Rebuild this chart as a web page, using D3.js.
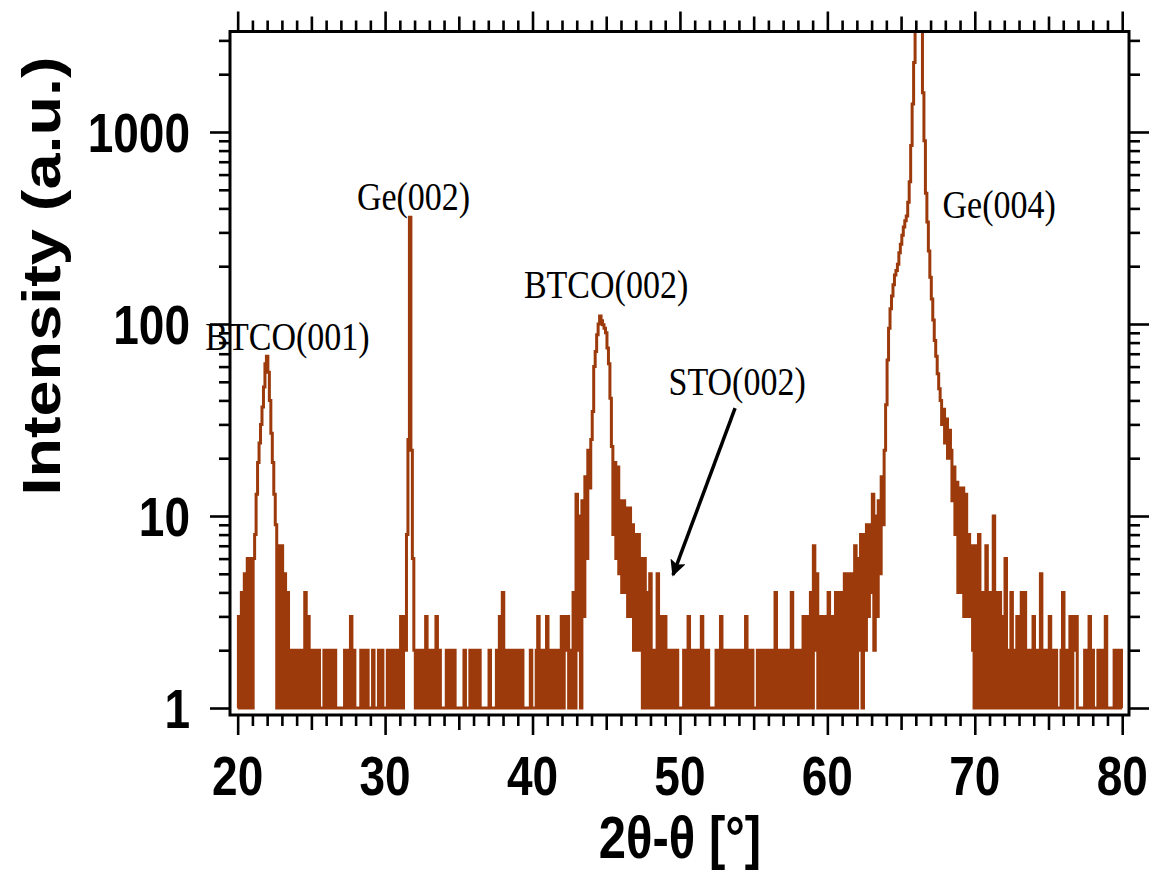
<!DOCTYPE html>
<html>
<head>
<meta charset="utf-8">
<title>XRD 2theta-theta scan</title>
<script src="https://d3js.org/d3.v7.min.js"></script>
<style>
  body { margin: 0; background: #fff; }
</style>
</head>
<body>
<script>

// detector counts, one array for every 10 degrees
var step = 0.1;
var segStarts = [20, 30, 40, 50, 60, 70];

var counts20 = [
  1,3,1,4,1,5,1,6,1,6,
  1,6,8,13,19,24,30,37,47,62,
  68,56,40,27,19,13,9,1,7,1,
  7,1,5,1,4,1,2,1,2,1,
  2,1,2,1,2,1,4,1,3,1,
  1,2,1,2,1,2,1,1,1,2,
  1,2,1,1,2,1,2,1,1,1,
  1,1,1,2,1,2,1,3,1,2,
  1,1,1,1,2,1,2,1,2,1,
  1,1,2,1,1,1,2,1,2,1];

var counts30 = [
  1,1,2,1,2,1,2,1,2,1,
  2,3,1,3,2,8,25,360,22,6,
  2,1,2,1,2,1,1,2,3,1,
  2,1,2,1,2,3,1,2,1,1,
  1,1,2,1,2,1,1,2,1,1,
  1,1,1,1,2,1,1,1,2,1,
  2,1,2,1,2,1,1,1,1,1,
  1,2,1,1,1,1,2,1,3,1,
  4,1,2,1,2,1,2,1,2,1,
  1,2,1,2,1,1,1,1,1,2];

var counts40 = [
  1,1,1,2,3,1,1,2,1,2,
  3,1,2,1,2,1,2,1,2,1,
  3,1,3,2,3,1,2,1,4,1,
  13,2,10,1,12,3,16,6,22,14,
  25,35,60,72,88,100,110,104,99,95,
  90,75,62,41,23,8,19,6,18,5,
  12,4,12,4,11,3,11,3,9,2,
  8,2,8,2,6,1,6,1,4,1,
  5,1,2,1,2,5,1,2,3,1,
  3,1,2,1,2,1,2,1,2,1];

var counts50 = [
  1,1,1,2,1,2,3,1,1,2,
  1,2,1,2,1,3,1,2,1,2,
  1,1,1,1,1,2,1,2,3,1,
  2,1,2,1,2,1,2,1,2,1,
  2,1,2,1,2,3,1,2,1,2,
  1,1,1,2,1,2,1,2,1,2,
  1,2,1,2,1,4,1,2,1,2,
  1,2,1,2,1,2,4,1,2,1,
  2,1,2,1,3,1,3,1,3,4,
  1,7,2,5,1,3,1,3,1,3];

var counts60 = [
  1,4,1,3,1,3,4,1,3,4,
  1,3,5,1,5,1,5,1,4,7,
  1,6,2,8,1,8,2,9,3,9,
  4,13,2,10,3,12,5,16,9,22,
  38,65,95,120,140,160,180,190,205,235,
  260,290,320,345,365,430,550,850,1400,2300,
  3600,8000,12000,9000,4000,1600,900,480,340,240,
  175,135,105,82,68,55,46,40,30,36,
  24,32,20,28,22,12,18,8,15,4,
  14,4,14,3,13,3,8,3,7,2];

var counts70 = [
  1,7,1,8,1,4,1,2,7,1,
  4,1,3,10,1,4,1,4,1,3,
  1,6,1,2,1,4,1,2,1,3,
  1,2,4,1,4,1,2,1,2,1,
  3,1,2,1,2,5,1,2,1,2,
  1,3,1,2,1,2,1,1,1,2,
  4,1,2,1,2,3,1,3,2,3,
  1,1,1,1,1,2,1,2,3,1,
  2,1,1,1,2,1,2,1,2,3,
  1,1,1,1,1,2,1,2,1,2,
  1];

var xTickLabels = [20, 30, 40, 50, 60, 70, 80];
var yTickLabels = [1, 10, 100, 1000];

// peak names and where they sit (2theta, counts at the baseline of the text)
var peakNames = ["BTCO(001)", "Ge(002)", "BTCO(002)", "STO(002)", "Ge(004)"];
var peakNameX = [23.38, 31.93, 44.99, 53.88, 71.65];
var peakNameY = [73, 392, 137, 42.7, 356];

// arrow pointing at the STO(002) position
var arrowFrom = [53.74, 36.5];
var arrowTo = [49.53, 4.93];

// put the segments together into one scan
var scan = [];
[counts20, counts30, counts40, counts50, counts60, counts70].forEach(function (seg, k) {
  seg.forEach(function (c, i) {
    scan.push([Math.round((segStarts[k] + i * step) * 100) / 100, c]);
  });
});

var W = 1157, H = 875;
// note: "top" is taken by window.top, so the frame edges get their own names
var pLeft = 230, pRight = 1129, pTop = 31.5, pBottom = 715;
var lineColor = "#9c3a0b";

var svg = d3.select("body").append("svg")
  .attr("width", W)
  .attr("height", H);

var x = d3.scaleLinear().domain([19.48, 80.46]).range([pLeft, pRight]);
var y = d3.scaleLog().domain([0.9196, 3337]).range([pBottom, pTop]);

svg.append("clipPath").attr("id", "plotclip")
  .append("rect")
  .attr("x", pLeft).attr("y", pTop)
  .attr("width", pRight - pLeft).attr("height", pBottom - pTop);

// the scan itself - counts are binned, so draw it as steps
var line = d3.line()
  .curve(d3.curveStep)
  .x(function (d) { return x(d[0]); })
  .y(function (d) { return y(d[1]); });

svg.append("path")
  .datum(scan)
  .attr("clip-path", "url(#plotclip)")
  .attr("fill", "none")
  .attr("stroke", lineColor)
  .attr("stroke-width", 3)
  .attr("stroke-linejoin", "miter")
  .attr("d", line);

// ticks on all four sides, pointing out
var xMajor = d3.range(20, 81, 10);
var xMid = d3.range(25, 80, 10);
var xMinor = d3.range(20, 81).filter(function (v) { return v % 5 != 0; });
var yMajor = [1, 10, 100, 1000];
var yMinor = [];
[1, 10, 100, 1000].forEach(function (d) {
  for (var m = 2; m <= 9; m++) { if (d * m < 3337) yMinor.push(d * m); }
});

function ticks(axisFn, scale, vals, size, transform) {
  var g = svg.append("g")
    .attr("transform", transform)
    .call(axisFn(scale).tickValues(vals).tickSize(size).tickSizeOuter(0).tickFormat(""));
  g.select(".domain").remove();
  g.selectAll("line").attr("stroke", "#000").attr("stroke-width", 2.6);
}

[[xMajor, 20], [xMid, 15], [xMinor, 11]].forEach(function (t) {
  ticks(d3.axisBottom, x, t[0], t[1], "translate(0," + pBottom + ")");
  ticks(d3.axisTop, x, t[0], t[1], "translate(0," + pTop + ")");
});
[[yMajor, 20], [yMinor, 11]].forEach(function (t) {
  ticks(d3.axisLeft, y, t[0], t[1], "translate(" + pLeft + ",0)");
  ticks(d3.axisRight, y, t[0], t[1], "translate(" + pRight + ",0)");
});

svg.append("rect")
  .attr("x", pLeft).attr("y", pTop)
  .attr("width", pRight - pLeft).attr("height", pBottom - pTop)
  .attr("fill", "none")
  .attr("stroke", "#000")
  .attr("stroke-width", 3);

// tick labels (figure is a bit stretched vertically, hence the scale)
var sans = "'Liberation Sans', Arial, sans-serif";

svg.selectAll("text.xlab")
  .data(xTickLabels)
  .enter().append("text")
  .attr("class", "xlab")
  .attr("transform", function (d) { return "translate(" + x(d) + ",795) scale(1,1.2)"; })
  .attr("text-anchor", "middle")
  .attr("font-family", sans)
  .attr("font-weight", "bold")
  .attr("font-size", 46)
  .text(function (d) { return d; });

svg.selectAll("text.ylab")
  .data(yTickLabels)
  .enter().append("text")
  .attr("class", "ylab")
  .attr("transform", function (d) { return "translate(190," + y(d) + ") scale(1,1.2)"; })
  .attr("text-anchor", "end")
  .attr("y", 16.4)
  .attr("font-family", sans)
  .attr("font-weight", "bold")
  .attr("font-size", 46)
  .text(function (d) { return d; });

// axis titles
svg.append("text")
  .attr("transform", "translate(680,858) scale(1,1.2)")
  .attr("text-anchor", "middle")
  .attr("font-family", sans)
  .attr("font-weight", "bold")
  .attr("font-size", 49)
  .text("2θ-θ [°]");

svg.append("text")
  .attr("transform", "translate(60,276) scale(1,1.2) rotate(-90)")
  .attr("text-anchor", "middle")
  .attr("font-family", sans)
  .attr("font-weight", "bold")
  .attr("font-size", 54)
  .text("Intensity (a.u.)");

// peak names
svg.selectAll("text.peak")
  .data(peakNames)
  .enter().append("text")
  .attr("class", "peak")
  .attr("transform", function (d, i) {
    return "translate(" + x(peakNameX[i]) + "," + y(peakNameY[i]) + ") scale(1,1.2)";
  })
  .attr("text-anchor", "middle")
  .attr("font-family", "'Liberation Serif', 'Times New Roman', serif")
  .attr("font-size", 34)
  .text(function (d) { return d; });

// arrow
svg.append("defs").append("marker")
  .attr("id", "head")
  .attr("viewBox", "0 0 10 10")
  .attr("refX", 9).attr("refY", 5)
  .attr("markerWidth", 7).attr("markerHeight", 4.6)
  .attr("markerUnits", "strokeWidth")
  .attr("orient", "auto")
  .append("path")
  .attr("d", "M0,0 L10,5 L0,10 L2,5 z")
  .attr("fill", "#000");

svg.append("line")
  .attr("x1", x(arrowFrom[0])).attr("y1", y(arrowFrom[1]))
  .attr("x2", x(arrowTo[0])).attr("y2", y(arrowTo[1]))
  .attr("stroke", "#000")
  .attr("stroke-width", 3.5)
  .attr("marker-end", "url(#head)");

</script>
</body>
</html>
